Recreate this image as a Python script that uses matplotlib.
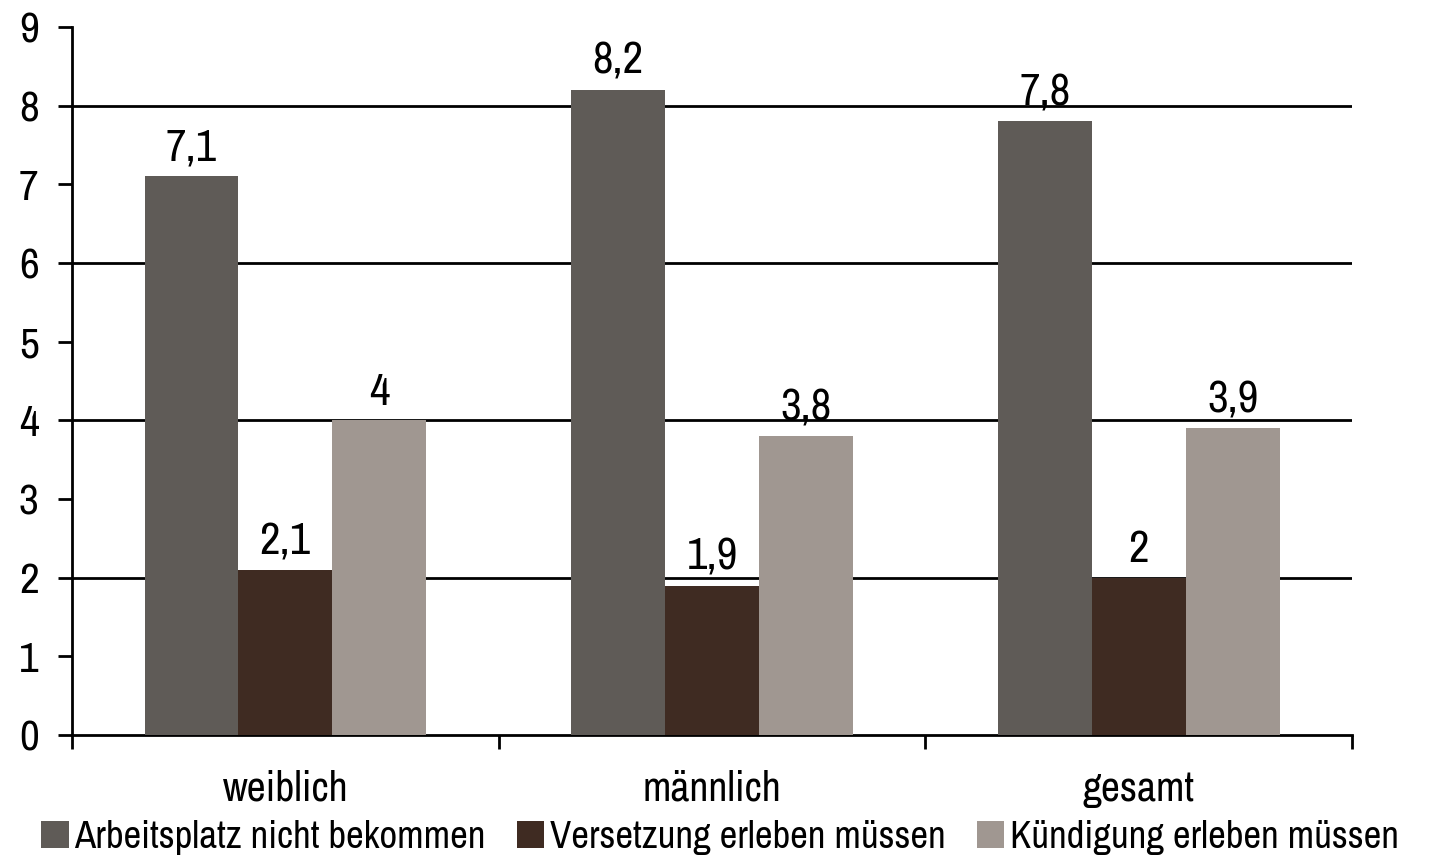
import numpy as np
import matplotlib.pyplot as plt
from matplotlib import font_manager

# condensed look if a condensed face is installed
fonts = font_manager.fontManager.ttflist
narrow = [f.name for f in fonts if "Narrow" in f.name or "Condensed" in f.name]
cond_dejavu = any(f.name == "DejaVu Sans" and f.stretch == "condensed" for f in fonts)
if narrow:
    plt.rcParams['font.family'] = [narrow[0], 'DejaVu Sans']
    fs = 1.2
elif cond_dejavu:
    plt.rcParams['font.family'] = ['DejaVu Sans']
    plt.rcParams['font.stretch'] = 'condensed'
    fs = 0.9
else:
    plt.rcParams['font.family'] = ['DejaVu Sans']
    fs = 0.8
plt.rcParams['font.weight'] = 'light'

categories = ["weiblich", "männlich", "gesamt"]
series = ["Arbeitsplatz nicht bekommen", "Versetzung erleben müssen", "Kündigung erleben müssen"]
arbeitsplatz = [7.1, 8.2, 7.8]
versetzung = [2.1, 1.9, 2.0]
kuendigung = [4.0, 3.8, 3.9]
colors = ["#5f5b57", "#3f2b22", "#a09791"]

fig = plt.figure(figsize=(14.4, 8.68), dpi=100)
ax = fig.add_axes([0.05, 0.153, 0.889, 0.816])

x = np.arange(len(categories))
w = 0.22
for i, (vals, name, c) in enumerate(zip([arbeitsplatz, versetzung, kuendigung], series, colors)):
    bars = ax.bar(x + (i - 1) * w, vals, w, color=c, label=name, zorder=3)
    for b, v in zip(bars, vals):
        ax.text(b.get_x() + b.get_width() / 2, v + 0.1, f"{v:g}".replace(".", ","),
                ha="center", va="bottom", fontsize=27 * fs)

ax.set_xlim(-0.5, 2.5)
ax.set_ylim(0, 9)
ax.set_yticks(range(10))
for y in [2, 4, 6, 8]:
    ax.axhline(y, color="black", lw=2, zorder=1)

ax.set_xticks([-0.5, 0.5, 1.5, 2.5])
ax.set_xticklabels([])
ax.set_xticks(x, minor=True)
ax.set_xticklabels(categories, minor=True, fontsize=25 * fs)
ax.tick_params(axis="x", which="minor", length=0, pad=25)
ax.tick_params(axis="x", which="major", length=10, width=2, direction="out")
ax.tick_params(axis="y", length=10, width=2, labelsize=26 * fs, pad=14)

for s in ["top", "right"]:
    ax.spines[s].set_visible(False)
for s in ["left", "bottom"]:
    ax.spines[s].set_linewidth(2)

fig.legend(loc="lower center", ncol=3, frameon=False, fontsize=25 * fs * 0.93,
           handlelength=0.7, handleheight=0.7, handletextpad=0.15,
           columnspacing=0.8, bbox_to_anchor=(0.5, -0.025))

plt.savefig("out.png")
